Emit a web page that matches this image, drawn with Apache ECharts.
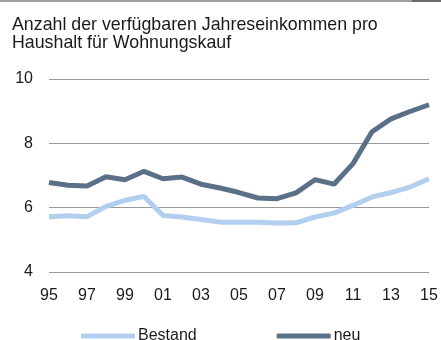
<!DOCTYPE html>
<html>
<head>
<meta charset="utf-8">
<script src="https://cdn.jsdelivr.net/npm/echarts@6/dist/echarts.min.js"></script>
<style>
  html, body { margin: 0; padding: 0; background: #fff; }
  #chart { width: 441px; height: 340px; }
</style>
</head>
<body>
<div id="chart"></div>
<script>
// Years 1995–2015, labelled by two digits
const years = ['95','96','97','98','99','00','01','02','03','04','05','06','07','08','09','10','11','12','13','14','15'];
// Available annual incomes needed per household to buy a flat
const bestand = [5.72,5.75,5.72,6.04,6.23,6.35,5.76,5.71,5.63,5.55,5.55,5.55,5.52,5.53,5.71,5.83,6.07,6.33,6.47,6.64,6.90];
const neu     = [6.78,6.70,6.67,6.96,6.87,7.13,6.90,6.95,6.73,6.61,6.47,6.30,6.28,6.46,6.87,6.73,7.37,8.36,8.76,8.99,9.20];
const yTicks = [4, 6, 8, 10];

const font = '"Liberation Sans", Arial, sans-serif';
const chart = echarts.init(document.getElementById('chart'));
chart.setOption({
  animation: false,
  title: {
    text: 'Anzahl der verfügbaren Jahreseinkommen pro\nHaushalt für Wohnungskauf',
    left: 7, top: 11,
    textStyle: { fontFamily: font, fontSize: 17.8, fontWeight: 'normal', color: '#1a1a1a', lineHeight: 18 }
  },
  graphic: [
    { type: 'rect', shape: { x: 0, y: 0, width: 412, height: 2 }, style: { fill: '#a0a0a0' } },
    { type: 'rect', shape: { x: 412, y: 0, width: 29, height: 2 }, style: { fill: '#6a6a6a' } }
  ],
  grid: { left: 49, right: 12, top: 79, bottom: 68, containLabel: false },
  legend: {
    top: 323, left: 76, itemGap: 80, itemWidth: 54, itemHeight: 5,
    icon: 'roundRect',
    textStyle: { fontFamily: font, fontSize: 16, color: '#1a1a1a', padding: [0, 0, 0, -2] },
    data: ['Bestand', 'neu']
  },
  xAxis: {
    type: 'category', data: years, boundaryGap: false,
    axisLine: { show: false }, axisTick: { show: false },
    axisLabel: {
      interval: 1, margin: 16, fontFamily: font, fontSize: 16, color: '#1a1a1a'
    }
  },
  yAxis: {
    type: 'value', min: yTicks[0], max: yTicks[yTicks.length - 1], interval: 2,
    axisLine: { show: false }, axisTick: { show: false },
    axisLabel: { margin: 16, fontFamily: font, fontSize: 16, color: '#1a1a1a' },
    splitLine: { lineStyle: { color: '#999', width: 1 } }
  },
  series: [
    {
      name: 'Bestand', type: 'line', data: bestand, symbol: 'none',
      lineStyle: { color: '#b3cff0', width: 5 }, itemStyle: { color: '#b3cff0' }
    },
    {
      name: 'neu', type: 'line', data: neu, symbol: 'none',
      lineStyle: { color: '#5a7087', width: 5 }, itemStyle: { color: '#5a7087' }
    }
  ]
});
</script>
</body>
</html>
